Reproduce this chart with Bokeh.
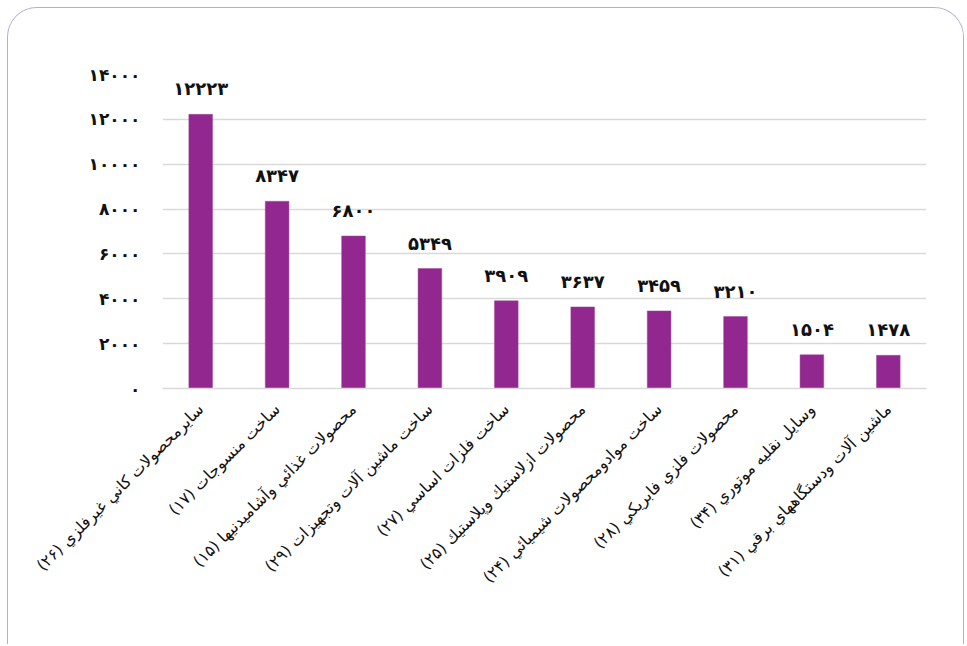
from math import pi
from bokeh.plotting import figure
from bokeh.models import ColumnDataSource, FixedTicker
from bokeh.core.properties import value
from bokeh.embed import file_html
from bokeh.resources import INLINE

categories = [
    "سايرمحصولات كاني غيرفلزي (۲۶)",
    "ساخت منسوجات (۱۷)",
    "محصولات غذائي وآشاميدنيها (۱۵)",
    "ساخت ماشين آلات وتجهيزات (۲۹)",
    "ساخت فلزات اساسي (۲۷)",
    "محصولات ازلاستيك وپلاستيك (۲۵)",
    "ساخت موادومحصولات شيميائي (۲۴)",
    "محصولات فلزي فابريكي (۲۸)",
    "وسايل نقليه موتوري (۳۴)",
    "ماشين آلات ودستگاههاي برقي (۳۱)",
]
values = [12223, 8347, 6800, 5349, 3909, 3637, 3459, 3210, 1504, 1478]
y_ticks = [0, 2000, 4000, 6000, 8000, 10000, 12000, 14000]
y_tick_labels = ["۰", "۲۰۰۰", "۴۰۰۰", "۶۰۰۰", "۸۰۰۰", "۱۰۰۰۰", "۱۲۰۰۰", "۱۴۰۰۰"]

FA_DIGITS = str.maketrans("0123456789", "۰۱۲۳۴۵۶۷۸۹")


def fa(n):
    return str(n).translate(FA_DIGITS)


source = ColumnDataSource(dict(cat=categories, val=values, lab=[fa(v) for v in values]))

p = figure(
    x_range=categories,
    y_range=(0, 14000),
    width=957,
    height=637,
    output_backend="svg",
    toolbar_location=None,
    min_border_left=154,
    min_border_right=39,
    min_border_top=66,
    min_border_bottom=257,
    background_fill_color="white",
    border_fill_color="white",
    outline_line_color=None,
    styles={"border": "1px solid #b9aadb", "border-bottom": "none",
            "border-top-left-radius": "30px", "border-top-right-radius": "30px",
            "overflow": "hidden", "margin-left": "7px", "margin-top": "7px"},
)

p.vbar(x="cat", top="val", width=0.31, source=source, fill_color="#92278F", line_color="#a14a9c", line_width=0.5)

p.text(
    x="cat", y="val", text="lab", source=source,
    text_align="center", text_baseline="bottom", y_offset=-15,
    text_font=value("DejaVu Sans"), text_font_style="bold", text_font_size="18px",
    text_color="#111111",
)

p.yaxis.ticker = FixedTicker(ticks=y_ticks)
p.yaxis.major_label_overrides = {t: l for t, l in zip(y_ticks, y_tick_labels)}
p.yaxis.axis_line_color = None
p.yaxis.major_tick_line_color = None
p.yaxis.minor_tick_line_color = None
p.yaxis.major_tick_out = 0
p.yaxis.major_label_standoff = 22
p.yaxis.major_label_text_font = "DejaVu Sans"
p.yaxis.major_label_text_font_style = "bold"
p.yaxis.major_label_text_font_size = "17px"
p.yaxis.major_label_text_color = "#111111"

p.xaxis.axis_line_color = "#d9d9d9"
p.xaxis.axis_line_width = 1.5
p.xaxis.major_tick_line_color = None
p.xaxis.minor_tick_line_color = None
p.xaxis.major_tick_out = 0
p.xaxis.major_label_orientation = pi / 4
p.xaxis.major_label_standoff = 18
p.xaxis.major_label_text_font = "DejaVu Sans"
p.xaxis.major_label_text_font_size = "16px"
p.xaxis.major_label_text_color = "#111111"

p.xgrid.grid_line_color = None
p.ygrid.grid_line_color = "#d9d9d9"
p.ygrid.grid_line_width = 1.5

open("out.html", "w").write(file_html(p, INLINE))
